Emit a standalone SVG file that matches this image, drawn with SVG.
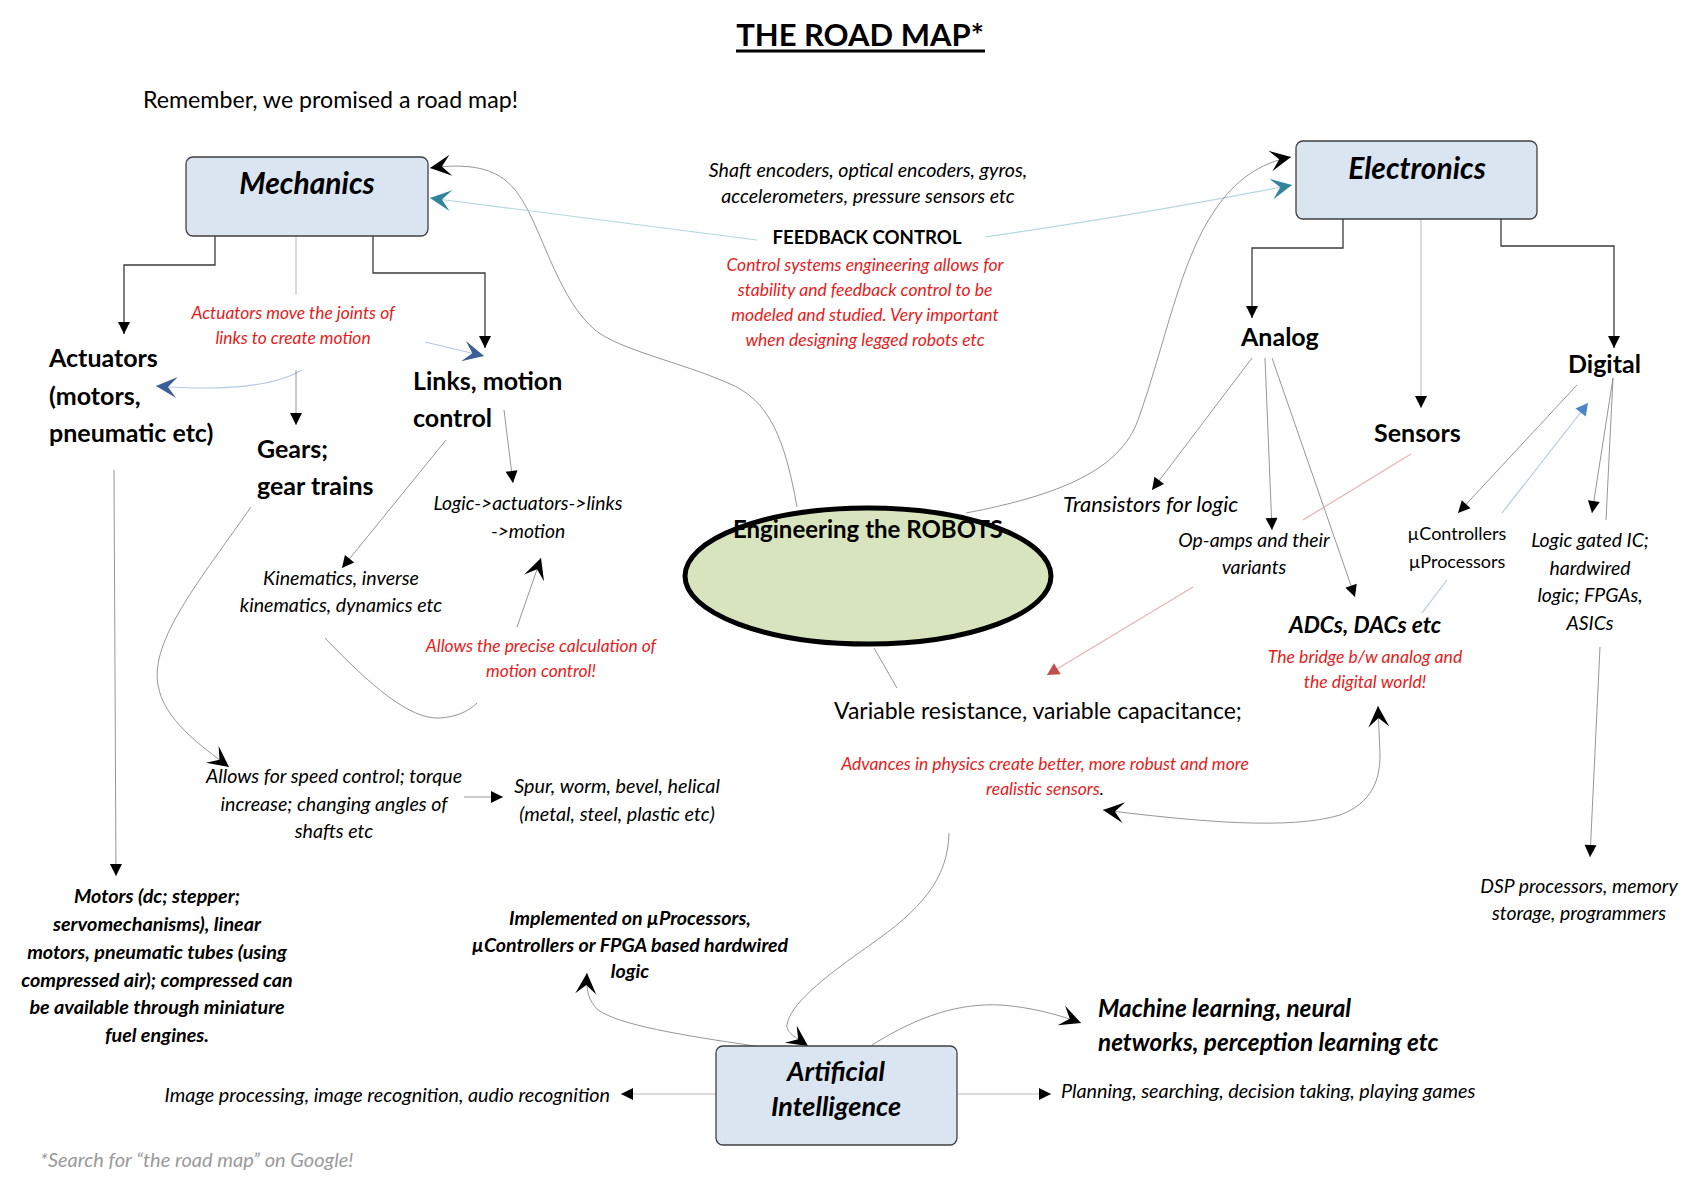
<svg xmlns="http://www.w3.org/2000/svg" width="1700" height="1193" viewBox="0 0 1700 1193">
<style>
text{font-family:Lato,"Liberation Sans",sans-serif;fill:#000}
.b{font-weight:bold}
.i{font-style:italic}
.bi{font-weight:bold;font-style:italic}
.red{fill:#e41c1c}
.m{text-anchor:middle}
.e{text-anchor:end}
.box{fill:#dbe5f1;stroke:#404040;stroke-width:1.3}
.dk{fill:none;stroke:#3a3a3a;stroke-width:1.3}
.gr{fill:none;stroke:#8a8a8a;stroke-width:0.9}
.lg{fill:none;stroke:#b8b8b8;stroke-width:1}
.teal{fill:none;stroke:#b4d6df;stroke-width:1.2}
.blu{fill:none;stroke:#b5c8e2;stroke-width:1.2}
.pnk{fill:none;stroke:#e3b4b3;stroke-width:1.2}
</style>
<defs>
<marker id="tri" markerUnits="userSpaceOnUse" viewBox="-14 -8 16 16" markerWidth="16" markerHeight="16" refX="0" refY="0" orient="auto"><path d="M0,0 L-12,-6 L-12,6 Z" fill="#000"/></marker>
<marker id="triR" markerUnits="userSpaceOnUse" viewBox="-14 -8 16 16" markerWidth="16" markerHeight="16" refX="0" refY="0" orient="auto"><path d="M0,0 L-12,-6.5 L-12,6.5 Z" fill="#c0504d"/></marker>
<marker id="triB" markerUnits="userSpaceOnUse" viewBox="-14 -8 16 16" markerWidth="16" markerHeight="16" refX="0" refY="0" orient="auto"><path d="M0,0 L-12,-6.5 L-12,6.5 Z" fill="#4a86c8"/></marker>
<marker id="stl" markerUnits="userSpaceOnUse" viewBox="-23 -12 25 24" markerWidth="25" markerHeight="24" refX="0" refY="0" orient="auto-start-reverse"><path d="M0,0 L-21,-10.5 L-12,0 L-21,10.5 Z" fill="#000"/></marker>
<marker id="stlT" markerUnits="userSpaceOnUse" viewBox="-23 -12 25 24" markerWidth="25" markerHeight="24" refX="0" refY="0" orient="auto"><path d="M0,0 L-21,-10.5 L-12,0 L-21,10.5 Z" fill="#31849b"/></marker>
<marker id="stlB" markerUnits="userSpaceOnUse" viewBox="-23 -12 25 24" markerWidth="25" markerHeight="24" refX="0" refY="0" orient="auto"><path d="M0,0 L-21,-10.5 L-12,0 L-21,10.5 Z" fill="#3b5f96"/></marker>
</defs>
<rect width="1700" height="1193" fill="#fff"/>

<g id="title">
<text class="b m" x="860" y="46" font-size="31">THE ROAD MAP*</text>
<line x1="736" y1="51" x2="985" y2="51" stroke="#000" stroke-width="3"/>
</g>
<g id="intro"><text x="143" y="108" font-size="23.2">Remember, we promised a road map!</text></g>

<g id="connectors">
<polyline class="dk" points="215,236 215,265 124,265 124,334" marker-end="url(#tri)"/>
<line class="lg" x1="296" y1="236" x2="296" y2="295"/>
<polyline class="dk" points="373,236 373,273 485,273 485,348" marker-end="url(#tri)"/>
<line class="blu" x1="425" y1="342" x2="484" y2="356" marker-end="url(#stlB)"/>
<path class="blu" d="M302,370 Q262,394 156,386" marker-end="url(#stlB)"/>
<line class="gr" x1="296" y1="370" x2="296" y2="425" marker-end="url(#tri)"/>
<line class="gr" x1="504" y1="410" x2="513" y2="483" marker-end="url(#tri)"/>
<line class="gr" x1="446" y1="440" x2="342" y2="568" marker-end="url(#tri)"/>
<line class="gr" x1="517" y1="627" x2="541" y2="558" marker-end="url(#stl)"/>
<path class="gr" d="M325,638 C370,685 410,720 440,718 C455,717 468,712 477,703"/>
<path class="gr" d="M251,507 C200,580 150,640 158,685 C164,720 200,745 229,767" marker-end="url(#stl)"/>
<line class="gr" x1="464" y1="797" x2="503" y2="797" marker-end="url(#tri)"/>
<line class="gr" x1="114" y1="470" x2="116" y2="876" marker-end="url(#tri)"/>
<path class="gr" d="M797,507 C785,440 770,400 728,383 C680,362 620,350 595,330 C560,300 545,240 525,205 C510,178 490,160 430,168" marker-end="url(#stl)"/>
<path class="teal" d="M757,240 L430,198" marker-end="url(#stlT)"/>
<path class="teal" d="M985,237 Q1150,213 1292,185" marker-end="url(#stlT)"/>
<path class="gr" d="M966,513 C1060,495 1120,470 1138,420 C1165,345 1180,260 1215,210 C1235,180 1260,163 1291,157" marker-end="url(#stl)"/>
<line class="gr" x1="874" y1="648" x2="897" y2="688"/>
<polyline class="dk" points="1343,219 1343,248 1252,248 1252,318" marker-end="url(#tri)"/>
<line class="lg" x1="1421" y1="219" x2="1421" y2="408" marker-end="url(#tri)"/>
<polyline class="dk" points="1501,219 1501,246 1614,246 1614,348" marker-end="url(#tri)"/>
<line class="gr" x1="1252" y1="358" x2="1152" y2="490" marker-end="url(#tri)"/>
<line class="gr" x1="1265" y1="358" x2="1272" y2="530" marker-end="url(#tri)"/>
<line class="gr" x1="1272" y1="358" x2="1355" y2="597" marker-end="url(#tri)"/>
<line class="pnk" x1="1411" y1="454" x2="1303" y2="520"/>
<line class="pnk" x1="1193" y1="587" x2="1047" y2="675" marker-end="url(#triR)"/>
<line class="gr" x1="1577" y1="385" x2="1458" y2="513" marker-end="url(#tri)"/>
<line class="blu" x1="1502" y1="513" x2="1588" y2="403" marker-end="url(#triB)"/>
<line class="gr" x1="1613" y1="378" x2="1592" y2="513" marker-end="url(#tri)"/>
<line class="gr" x1="1613" y1="378" x2="1606" y2="520"/>
<line class="gr" x1="1600" y1="647" x2="1590" y2="857" marker-end="url(#tri)"/>
<line class="blu" x1="1447" y1="580" x2="1422" y2="613"/>
<path class="gr" d="M1103,810 C1200,822 1290,830 1340,815 C1372,803 1380,780 1380,755 L1378,706" marker-start="url(#stl)" marker-end="url(#stl)"/>
<path class="gr" d="M949,833 C948,880 920,910 870,945 C820,980 790,1005 787,1025 C786,1032 795,1037 808,1046" marker-end="url(#stl)"/>
<path class="gr" d="M755,1046 C680,1035 620,1025 598,1010 C588,1000 586,990 587,973" marker-end="url(#stl)"/>
<path class="gr" d="M872,1045 C920,1015 960,1003 1001,1005 C1030,1007 1060,1015 1081,1023" marker-end="url(#stl)"/>
<line class="lg" x1="957" y1="1094" x2="1051" y2="1094" marker-end="url(#tri)"/>
<line class="lg" x1="716" y1="1094" x2="621" y2="1094" marker-end="url(#tri)"/>
</g>

<g id="mechanics">
<rect class="box" x="186" y="157" width="242" height="79" rx="7"/>
<text class="bi m" x="307" y="194" font-size="30">Mechanics</text>
</g>
<g id="electronics">
<rect class="box" x="1296" y="141" width="241" height="78" rx="7"/>
<text class="bi m" x="1417" y="179" font-size="30">Electronics</text>
</g>
<g id="ai">
<rect class="box" x="716" y="1046" width="241" height="99" rx="7"/>
<text class="bi m" x="836" y="1081" font-size="27">Artificial</text>
<text class="bi m" x="836" y="1116" font-size="27">Intelligence</text>
</g>
<g id="robots">
<ellipse cx="868" cy="576" rx="183" ry="68" fill="#d7e4bd" stroke="#000" stroke-width="5"/>
<text class="b m" x="868" y="538" font-size="24">Engineering the ROBOTS</text>
</g>

<g id="actuators"><text class="b" x="49" font-size="25"><tspan x="49" y="367">Actuators</tspan><tspan x="49" y="405">(motors,</tspan><tspan x="49" y="442">pneumatic etc)</tspan></text></g>
<g id="actuators-note"><text class="i red m" font-size="17.4"><tspan x="293" y="319">Actuators move the joints of</tspan><tspan x="293" y="344">links to create motion</tspan></text></g>
<g id="gears"><text class="b" font-size="25"><tspan x="257" y="458">Gears;</tspan><tspan x="257" y="495">gear trains</tspan></text></g>
<g id="links"><text class="b" font-size="25"><tspan x="413" y="390">Links, motion</tspan><tspan x="413" y="427">control</tspan></text></g>
<g id="logic-chain"><text class="i m" font-size="19.3"><tspan x="528" y="510">Logic-&gt;actuators-&gt;links</tspan><tspan x="528" y="538">-&gt;motion</tspan></text></g>
<g id="kinematics"><text class="i m" font-size="19.6"><tspan x="341" y="585">Kinematics, inverse</tspan><tspan x="341" y="612">kinematics, dynamics etc</tspan></text></g>
<g id="precise-note"><text class="i red m" font-size="17.4"><tspan x="541" y="652">Allows the precise calculation of</tspan><tspan x="541" y="677">motion control!</tspan></text></g>
<g id="speed"><text class="i m" font-size="19.6"><tspan x="334" y="783">Allows for speed control; torque</tspan><tspan x="334" y="811">increase; changing angles of</tspan><tspan x="334" y="838">shafts etc</tspan></text></g>
<g id="spur"><text class="i m" font-size="19.8"><tspan x="617" y="793">Spur, worm, bevel, helical</tspan><tspan x="617" y="821">(metal, steel, plastic etc)</tspan></text></g>
<g id="motors"><text class="bi m" font-size="19.8"><tspan x="157" y="903">Motors (dc; stepper;</tspan><tspan x="157" y="931">servomechanisms), linear</tspan><tspan x="157" y="959">motors, pneumatic tubes (using</tspan><tspan x="157" y="987">compressed air); compressed can</tspan><tspan x="157" y="1014">be available through miniature</tspan><tspan x="157" y="1042">fuel engines.</tspan></text></g>

<g id="sensors-feedback"><text class="i m" font-size="19.6"><tspan x="868" y="177">Shaft encoders, optical encoders, gyros,</tspan><tspan x="868" y="203">accelerometers, pressure sensors etc</tspan></text></g>
<g id="feedback"><text class="b m" x="867" y="244" font-size="18.6">FEEDBACK CONTROL</text>
<text class="i red m" font-size="17.5"><tspan x="865" y="271">Control systems engineering allows for</tspan><tspan x="865" y="296">stability and feedback control to be</tspan><tspan x="865" y="321">modeled and studied. Very important</tspan><tspan x="865" y="346">when designing legged robots etc</tspan></text></g>

<g id="analog"><text class="b" x="1241" y="346" font-size="25">Analog</text></g>
<g id="sensors"><text class="b" x="1374" y="442" font-size="25">Sensors</text></g>
<g id="digital"><text class="b" x="1568" y="373" font-size="25">Digital</text></g>
<g id="transistors"><text class="i" x="1063" y="512" font-size="22">Transistors for logic</text></g>
<g id="opamps"><text class="i m" font-size="19.4"><tspan x="1254" y="547">Op-amps and their</tspan><tspan x="1254" y="574">variants</tspan></text></g>
<g id="ucontrollers"><text class="m" font-size="18"><tspan x="1457" y="540">µControllers</tspan><tspan x="1457" y="568">µProcessors</tspan></text></g>
<g id="logic-gated"><text class="i m" font-size="19.4"><tspan x="1590" y="547">Logic gated IC;</tspan><tspan x="1590" y="575">hardwired</tspan><tspan x="1590" y="602">logic; FPGAs,</tspan><tspan x="1590" y="630">ASICs</tspan></text></g>
<g id="adcs"><text class="bi m" x="1365" y="633" font-size="22.8">ADCs, DACs etc</text>
<text class="i red m" font-size="17.6"><tspan x="1365" y="663">The bridge b/w analog and</tspan><tspan x="1365" y="688">the digital world!</tspan></text></g>
<g id="variable"><text x="834" y="719" font-size="23">Variable resistance, variable capacitance;</text>
<text class="i red m" font-size="17.5"><tspan x="1045" y="770">Advances in physics create better, more robust and more</tspan><tspan x="1045" y="795">realistic sensors<tspan fill="#000">.</tspan></tspan></text></g>
<g id="dsp"><text class="i m" font-size="19.4"><tspan x="1579" y="893">DSP processors, memory</tspan><tspan x="1579" y="920">storage, programmers</tspan></text></g>

<g id="implemented"><text class="bi m" font-size="19.6"><tspan x="630" y="925">Implemented on µProcessors,</tspan><tspan x="630" y="952">µControllers or FPGA based hardwired</tspan><tspan x="630" y="978">logic</tspan></text></g>
<g id="machine-learning"><text class="bi" font-size="24.3"><tspan x="1098" y="1017">Machine learning, neural</tspan><tspan x="1098" y="1051">networks, perception learning etc</tspan></text></g>
<g id="planning"><text class="i" x="1061" y="1098" font-size="19.8">Planning, searching, decision taking, playing games</text></g>
<g id="image-processing"><text class="i e" x="610" y="1102" font-size="19.8">Image processing, image recognition, audio recognition</text></g>
<g id="footnote"><text class="i" x="40" y="1167" font-size="20" style="fill:#9a9a9a">*Search for “the road map” on Google!</text></g>
</svg>
